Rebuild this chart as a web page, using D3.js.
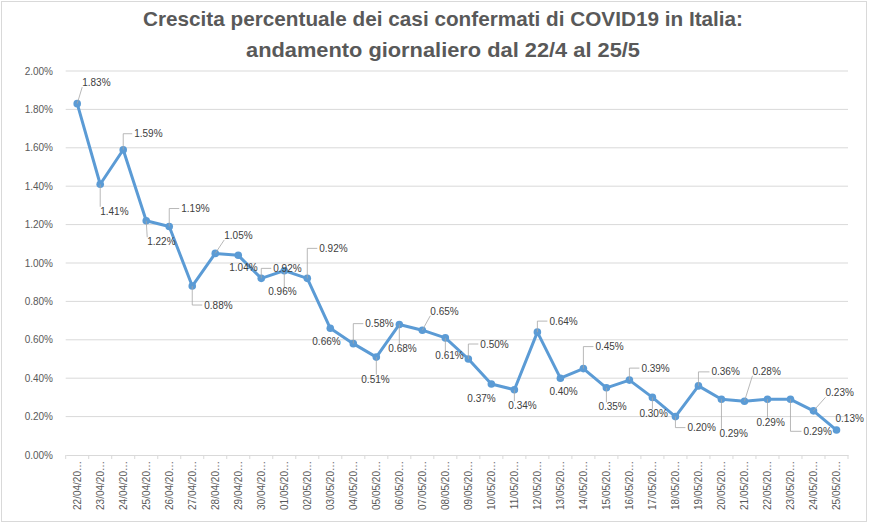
<!DOCTYPE html>
<html>
<head>
<meta charset="utf-8">
<script src="https://cdn.jsdelivr.net/npm/d3@7.9.0/dist/d3.min.js"></script>
<style>
  html, body { margin: 0; padding: 0; background: #fff; }
  svg { display: block; font-family: "Liberation Sans", Arial, sans-serif; }
</style>
</head>
<body>
<svg id="chart" width="869" height="523"></svg>
<script>
// daily dates (22/4 - 25/5/2020)
const dates = [
    '22/04/2020', '23/04/2020', '24/04/2020', '25/04/2020', '26/04/2020', '27/04/2020',
    '28/04/2020', '29/04/2020', '30/04/2020', '01/05/2020', '02/05/2020', '03/05/2020',
    '04/05/2020', '05/05/2020', '06/05/2020', '07/05/2020', '08/05/2020', '09/05/2020',
    '10/05/2020', '11/05/2020', '12/05/2020', '13/05/2020', '14/05/2020', '15/05/2020',
    '16/05/2020', '17/05/2020', '18/05/2020', '19/05/2020', '20/05/2020', '21/05/2020',
    '22/05/2020', '23/05/2020', '24/05/2020', '25/05/2020'
];
// percent growth of confirmed cases
const growth = [
    1.83, 1.41, 1.59, 1.22, 1.19, 0.88, 1.05, 1.04, 0.92, 0.96, 0.92, 0.66,
    0.58, 0.51, 0.68, 0.65, 0.61, 0.50, 0.37, 0.34, 0.64, 0.40, 0.45, 0.35,
    0.39, 0.30, 0.20, 0.36, 0.29, 0.28, 0.29, 0.29, 0.23, 0.13
];
const yTicks = [0, 0.2, 0.4, 0.6, 0.8, 1.0, 1.2, 1.4, 1.6, 1.8, 2.0];
const titleLines = [
    'Crescita percentuale dei casi confermati di COVID19 in Italia:',
    'andamento giornaliero dal 22/4 al 25/5'
];

// where each data label sits relative to its point: [dx, dy, leader]
const labelPlace = [
    [5, -21, 'line'], [0, 27, 'line'], [11, -16, 'elbow'], [1, 21, 'line'],
    [12, -18, 'elbow'], [12, 19, 'elbow'], [9, -18, 'line'], [-9, 12, 'none'],
    [12, -10, 'elbow'], [-16, 21, 'line'], [12, -30, 'elbow'], [-18, 13, 'none'],
    [12, -20, 'elbow'], [-15, 22, 'line'], [-11, 24, 'line'], [8, -19, 'line'],
    [-10, 18, 'line'], [12, -15, 'elbow'], [-24, 15, 'none'], [-6, 16, 'line'],
    [12, -11, 'elbow'], [-11, 13, 'none'], [12, -22, 'elbow'], [-8, 19, 'line'],
    [12, -12, 'elbow'], [-13, 16, 'line'], [12, 11, 'elbow'], [13, -14, 'elbow'],
    [-2, 34, 'line'], [8, -30, 'line'], [-11, 23, 'line'], [13, 32, 'elbow'],
    [12, -18, 'line'], [-1, -12, 'none']
];

const W = 869, H = 523;
const plot = { left: 65.7, right: 848, top: 71, bottom: 455 };
const svg = d3.select('#chart');

// chart frame
svg.append('rect')
    .attr('x', 1.5).attr('y', 1.5)
    .attr('width', W - 4).attr('height', H - 3)
    .attr('fill', '#fff').attr('stroke', '#d9d9d9');

// title
titleLines.forEach((t, i) => {
    svg.append('text')
        .attr('x', 443).attr('y', 26 + i * 31)
        .attr('text-anchor', 'middle')
        .attr('font-size', 21).attr('font-weight', 'bold')
        .attr('fill', '#595959')
        .attr('textLength', i === 0 ? 600 : 394)
        .attr('lengthAdjust', 'spacingAndGlyphs')
        .text(t);
});

const x = d3.scaleBand().domain(dates).range([plot.left, plot.right]);
const y = d3.scaleLinear().domain([0, 2]).range([plot.bottom, plot.top]);

// gridlines + y labels
svg.append('g').selectAll('line').data(yTicks.slice(1)).join('line')
    .attr('x1', plot.left).attr('x2', plot.right)
    .attr('y1', (d) => y(d)).attr('y2', (d) => y(d))
    .attr('stroke', '#d9d9d9').attr('stroke-width', 1);

svg.append('g').selectAll('text').data(yTicks).join('text')
    .attr('x', 53).attr('y', (d) => y(d))
    .attr('dy', '0.35em')
    .attr('text-anchor', 'end')
    .attr('font-size', 10).attr('fill', '#595959')
    .text((d) => d.toFixed(2) + '%');

// x axis
const xAxis = d3.axisBottom(x).tickSize(0).tickFormat('');
svg.append('g')
    .attr('transform', `translate(0,${plot.bottom})`)
    .call(xAxis)
    .call((g) => g.select('.domain').attr('stroke', '#d9d9d9'));

const edges = dates.map((d) => x(d)).concat([x(dates[dates.length - 1]) + x.bandwidth()]);
svg.append('g').selectAll('line').data(edges).join('line')
    .attr('x1', (d) => d).attr('x2', (d) => d)
    .attr('y1', plot.bottom).attr('y2', plot.bottom + 4)
    .attr('stroke', '#d9d9d9');

svg.append('g').selectAll('text').data(dates).join('text')
    .attr('transform', (d) => `translate(${x(d) + x.bandwidth() / 2},${plot.bottom + 6}) rotate(-90)`)
    .attr('dy', '0.35em')
    .attr('text-anchor', 'end')
    .attr('font-size', 10).attr('fill', '#595959')
    .text((d) => d.slice(0, 8) + '…');

// series
const cx = (i) => x(dates[i]) + x.bandwidth() / 2;
const line = d3.line().x((d, i) => cx(i)).y((d) => y(d));

svg.append('path')
    .datum(growth)
    .attr('d', line)
    .attr('fill', 'none')
    .attr('stroke', '#5b9bd5')
    .attr('stroke-width', 3)
    .attr('stroke-linejoin', 'round');

svg.append('g').selectAll('circle').data(growth).join('circle')
    .attr('cx', (d, i) => cx(i)).attr('cy', (d) => y(d))
    .attr('r', 3.8).attr('fill', '#5b9bd5');

// data labels with leader lines
const leaders = svg.append('g');
const labels = svg.append('g');
growth.forEach((v, i) => {
    const px = cx(i), py = y(v);
    const [dx, dy, kind] = labelPlace[i];
    const t = labels.append('text')
        .attr('x', px + dx).attr('y', py + dy)
        .attr('dy', '0.35em')
        .attr('font-size', 10).attr('fill', '#404040')
        .text(v.toFixed(2) + '%');
    if (kind === 'none') return;
    const b = t.node().getBBox();
    let pts;
    if (kind === 'elbow') {
        const ly = py + dy;
        pts = [[px, py], [px, ly], [b.x - 2, ly]];
    } else {
        const nx = Math.max(b.x, Math.min(px, b.x + b.width));
        const ny = Math.max(b.y + 1, Math.min(py, b.y + b.height - 1));
        pts = [[px, py], [nx, ny]];
    }
    leaders.append('path')
        .attr('d', d3.line()(pts))
        .attr('fill', 'none')
        .attr('stroke', '#a6a6a6')
        .attr('stroke-width', 0.8);
});
</script>
</body>
</html>
